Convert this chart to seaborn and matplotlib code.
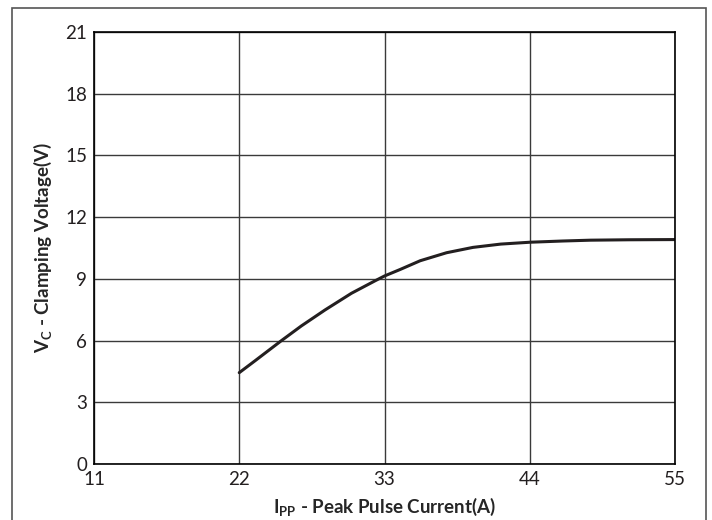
import matplotlib
matplotlib.use('Agg')
import matplotlib.pyplot as plt
import seaborn as sns
import pandas as pd
from matplotlib.patches import Rectangle

# curve
current = [22.0, 23.2, 25.2, 26.7, 28.5, 30.5, 32.3, 33.0, 34.2, 35.7,
           37.7, 39.7, 41.8, 44.0, 46.5, 48.6, 51.5, 55.0]
voltage = [4.44, 5.02, 6.0, 6.71, 7.49, 8.30, 8.91, 9.14, 9.46, 9.88,
           10.27, 10.53, 10.69, 10.78, 10.84, 10.88, 10.90, 10.91]
x_ticks = [11, 22, 33, 44, 55]
y_ticks = [0, 3, 6, 9, 12, 15, 18, 21]

df = pd.DataFrame({'Ipp': current, 'Vc': voltage})

sns.set_style('white')
plt.rcParams['font.family'] = ['Lato', 'DejaVu Sans']
plt.rcParams['mathtext.fontset'] = 'custom'
plt.rcParams['mathtext.rm'] = 'Lato'
plt.rcParams['mathtext.bf'] = 'Lato:bold'

fig = plt.figure(figsize=(7.12, 5.2), dpi=100)
ax = fig.add_axes([94 / 712, 56 / 520, 581 / 712, 432 / 520])

sns.lineplot(data=df, x='Ipp', y='Vc', ax=ax, color='#231f20', linewidth=2.2)

ax.set_xlim(11, 55)
ax.set_ylim(0, 21)
ax.set_xticks(x_ticks)
ax.set_yticks(y_ticks)
ax.grid(True, color='#3a3a3a', linewidth=1.0)
ax.tick_params(length=0, pad=5, labelsize=13.5, colors='#231f20')
for s in ax.spines.values():
    s.set_color('black')
    s.set_linewidth(1.2)

ax.set_xlabel(r'$\mathbf{I_{PP}}$ - Peak Pulse Current(A)', fontsize=13.5, fontweight='bold', labelpad=6)
ax.set_ylabel(r'$\mathbf{V_C}$ - Clamping Voltage(V)', fontsize=13.5, fontweight='bold', labelpad=8)

fig.patches.append(Rectangle((12 / 712, -0.05), 694 / 712, 1.05 - 8 / 520,
                             transform=fig.transFigure, fill=False,
                             edgecolor='#555555', linewidth=1.2))

fig.savefig('out.png', dpi=100)
